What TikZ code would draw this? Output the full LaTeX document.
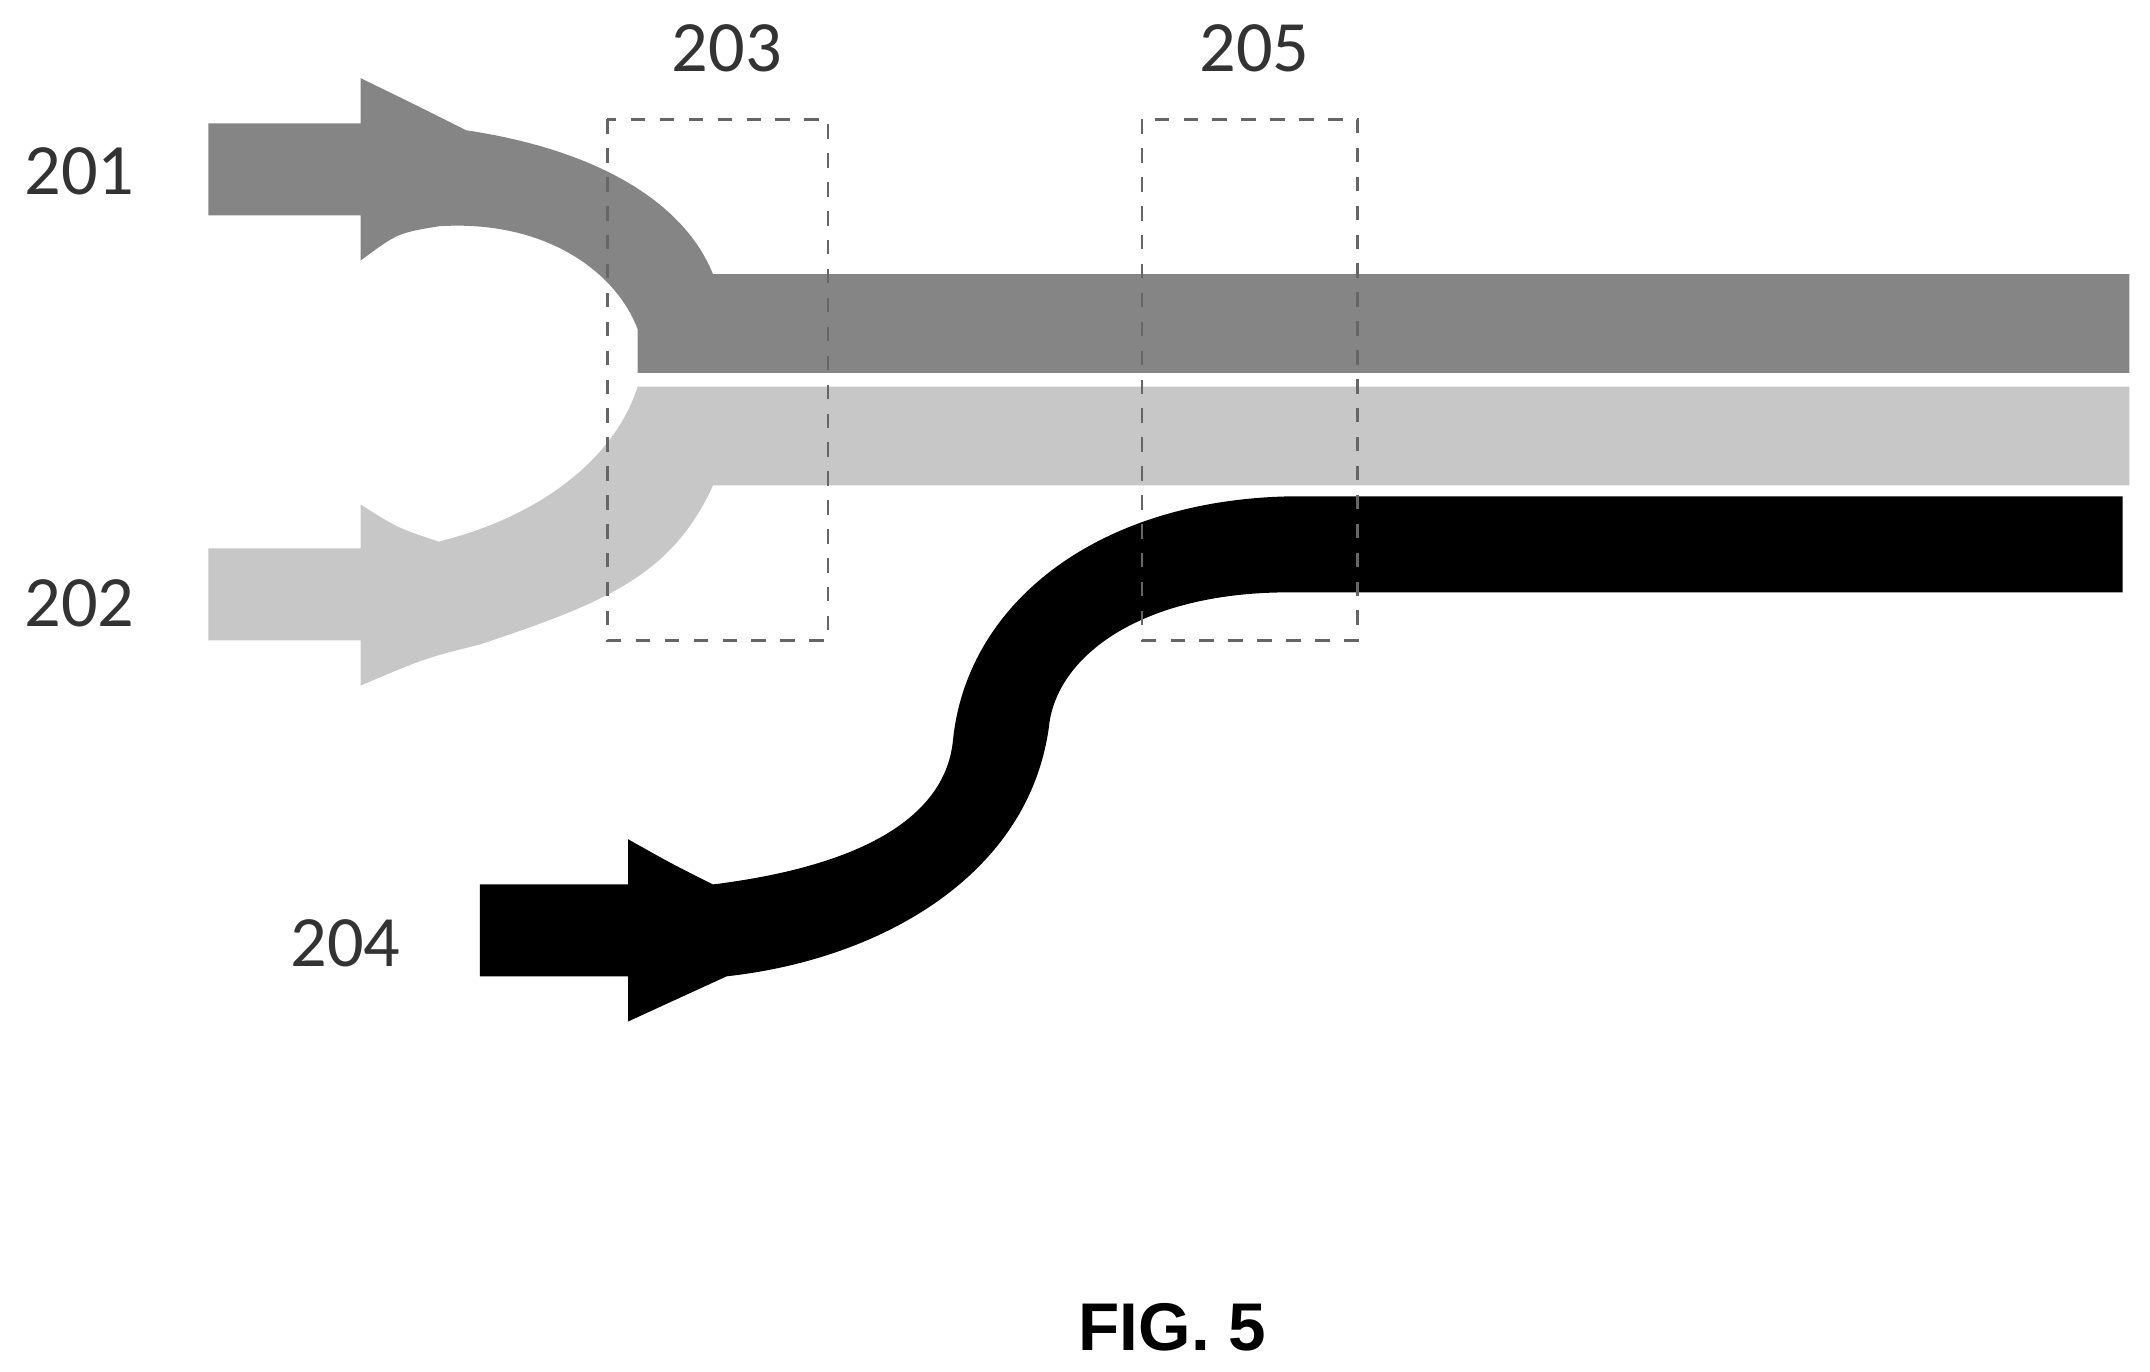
\documentclass[tikz,border=0pt]{standalone}
\usepackage{fontspec}
\setmainfont{Carlito}
\newfontfamily\labfont{Liberation Sans}
\begin{document}
\begin{tikzpicture}[x=0.1mm,y=-0.1mm,
  lbl/.style={font=\fontsize{15}{18}\selectfont,text=black!80},
  dbox/.style={draw=black!60,dashed,line width=0.5pt}]
\useasboundingbox (0,0) rectangle (1568,1000);
\fill[black!48] (152,90)--(263,90)--(263,57) .. controls (300,75) .. (340,95) .. controls (440,110) and (500,150) .. (520,200) -- (1553,200) -- (1553,272) -- (465,272) -- (465,240) .. controls (450,200) and (400,160) .. (320,165) .. controls (290,170) .. (263,190) -- (263,157) -- (152,157) -- cycle;
\fill[black!22] (152,400)--(263,400)--(263,368) .. controls (290,385) .. (320,395) .. controls (400,375) and (450,330) .. (465,282) -- (1553,282) -- (1553,354) -- (520,354) .. controls (490,420) and (440,440) .. (350,470) .. controls (310,480) .. (263,500) -- (263,467) -- (152,467) -- cycle;
\fill[black] (350,645)--(458,645)--(458,612) .. controls (490,630) .. (520,645) .. controls (640,630) and (690,590) .. (695,540) .. controls (705,440) and (800,365) .. (940,362) -- (1548,362) -- (1548,432) -- (940,432) .. controls (830,432) and (770,480) .. (765,530) .. controls (750,640) and (640,700) .. (530,712) -- (458,745) -- (458,712) -- (350,712) -- cycle;
\draw[dbox] (443,87) rectangle (604,467);
\draw[dbox] (833,87) rectangle (990,467);
\node[lbl] (l201) at (58,125) {201};
\node[lbl] (l202) at (58,440) {202};
\node[lbl] (l203) at (530,35) {203};
\node[lbl] (l205) at (915,35) {205};
\node[lbl] (l204) at (252,688) {204};
\node[font=\labfont\bfseries\fontsize{14}{17}\selectfont] (fig) at (855,968) {FIG. 5};
\end{tikzpicture}
\end{document}
